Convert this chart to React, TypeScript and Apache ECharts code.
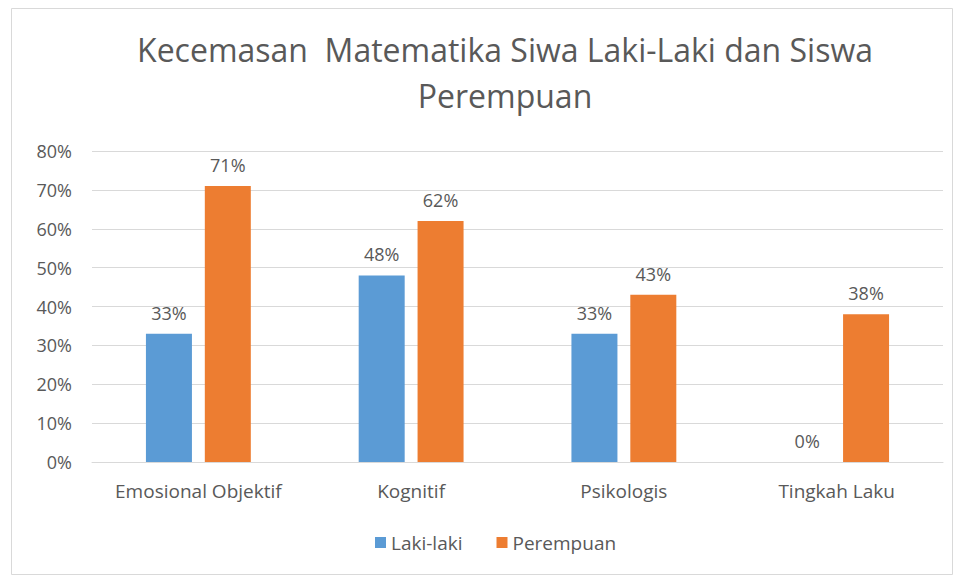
import React, { useEffect, useRef } from "react";
import * as echarts from "echarts";

const categories = ["Emosional Objektif", "Kognitif", "Psikologis", "Tingkah Laku"];
const lakiLaki = [33, 48, 33, 0];
const perempuan = [71, 62, 43, 38];
const seriesNames = ["Laki-laki", "Perempuan"];
const titleText = "Kecemasan  Matematika Siwa Laki-Laki dan Siswa\nPerempuan";

const FONT = "'Open Sans', 'Noto Sans', sans-serif";
const GRAY = "#595959";

export default function App() {
  const ref = useRef<HTMLDivElement>(null);
  useEffect(() => {
    document.body.style.margin = "0";
    const chart = echarts.init(ref.current!, null, { renderer: "svg" });
    const labelCfg = {
      show: true,
      position: "top" as const,
      distance: 12,
      color: GRAY,
      fontSize: 18,
      fontFamily: FONT,
      formatter: (p: any) => p.value + "%",
    };
    chart.setOption({
      animation: false,
      backgroundColor: "#ffffff",
      textStyle: { fontFamily: FONT },
      graphic: [
        {
          type: "rect",
          shape: { x: 11.5, y: 8.5, width: 941, height: 566 },
          style: { fill: "none", stroke: "#d9d9d9", lineWidth: 1 },
          silent: true,
        },
        {
          type: "text",
          x: 505,
          y: 26,
          silent: true,
          style: {
            text: titleText,
            textAlign: "center",
            textVerticalAlign: "top",
            fontFamily: FONT,
            fontSize: 32,
            fontWeight: "normal",
            lineHeight: 46,
            fill: GRAY,
          },
        },
      ],
      legend: {
        bottom: 22,
        left: 370,
        itemWidth: 11,
        itemHeight: 11,
        itemGap: 34,
        icon: "rect",
        textStyle: { color: GRAY, fontSize: 19, fontFamily: FONT },
        data: seriesNames,
      },
      grid: { left: 92, right: 21, top: 151, bottom: 117 },
      xAxis: {
        type: "category",
        data: categories,
        axisTick: { show: false },
        axisLine: { lineStyle: { color: "#d9d9d9" } },
        axisLabel: { color: GRAY, fontSize: 19, margin: 19, fontFamily: FONT, interval: 0 },
      },
      yAxis: {
        type: "value",
        min: 0,
        max: 80,
        interval: 10,
        axisLine: { show: false },
        axisTick: { show: false },
        splitLine: { lineStyle: { color: "#d9d9d9" } },
        axisLabel: {
          color: GRAY,
          fontSize: 18,
          margin: 20,
          fontFamily: FONT,
          formatter: (v: number) => v + "%",
        },
      },
      series: [
        {
          name: seriesNames[0],
          type: "bar",
          data: lakiLaki,
          barWidth: 46,
          barGap: "28%",
          itemStyle: { color: "#5B9BD5" },
          label: labelCfg,
        },
        {
          name: seriesNames[1],
          type: "bar",
          data: perempuan,
          barWidth: 46,
          barGap: "28%",
          itemStyle: { color: "#ED7D31" },
          label: labelCfg,
        },
      ],
    });
    return () => chart.dispose();
  }, []);
  return <div ref={ref} style={{ width: 964, height: 579 }} />;
}
